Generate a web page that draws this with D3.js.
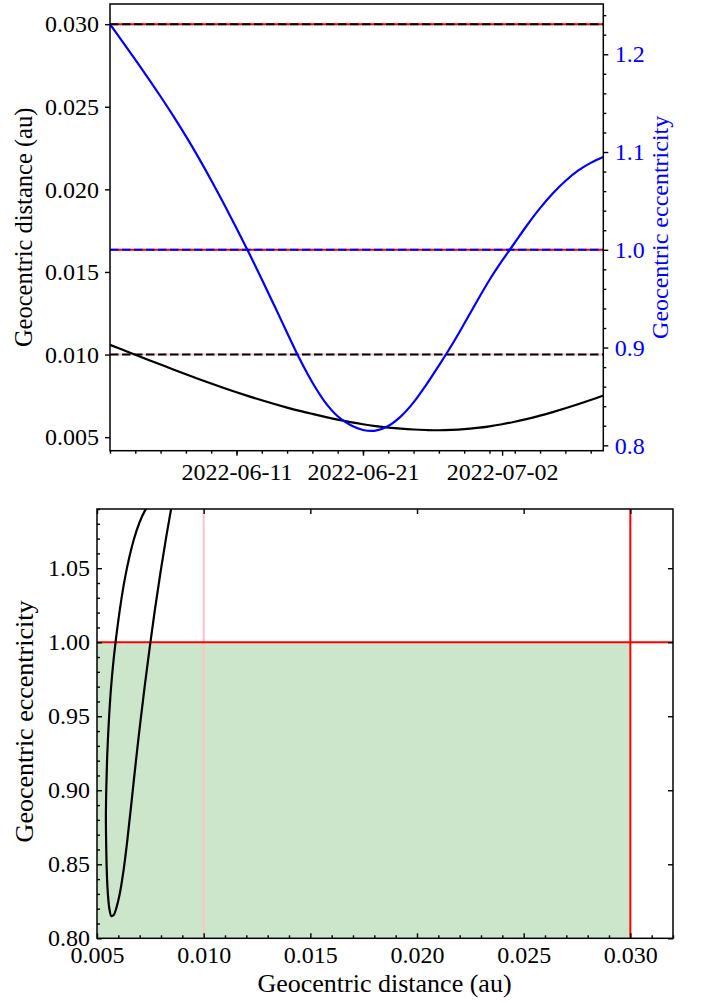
<!DOCTYPE html>
<html>
<head>
<meta charset="utf-8">
<script src="https://cdn.jsdelivr.net/npm/d3@7"></script>
<style>
body { margin: 0; background: #fff; }
text { font-family: "Liberation Serif", "Times New Roman", serif; }
</style>
</head>
<body>
<script>
// values, one sample a day
var dates = ["2022-06-01", "2022-06-02", "2022-06-03", "2022-06-04", "2022-06-05",
  "2022-06-06", "2022-06-07", "2022-06-08", "2022-06-09", "2022-06-10",
  "2022-06-11", "2022-06-12", "2022-06-13", "2022-06-14", "2022-06-15",
  "2022-06-16", "2022-06-17", "2022-06-18", "2022-06-19", "2022-06-20",
  "2022-06-21", "2022-06-22", "2022-06-23", "2022-06-24", "2022-06-25",
  "2022-06-26", "2022-06-27", "2022-06-28", "2022-06-29", "2022-06-30",
  "2022-07-01", "2022-07-02", "2022-07-03", "2022-07-04", "2022-07-05",
  "2022-07-06", "2022-07-07", "2022-07-08", "2022-07-09", "2022-07-10"];

var distance = [0.010587, 0.010287, 0.009987, 0.009690, 0.009395,
  0.009100, 0.008810, 0.008525, 0.008245, 0.007975,
  0.007715, 0.007470, 0.007232, 0.007005, 0.006790,
  0.006590, 0.006405, 0.006227, 0.006062, 0.005912,
  0.005782, 0.005672, 0.005582, 0.005512, 0.005462,
  0.005432, 0.005417, 0.005437, 0.005482, 0.005557,
  0.005657, 0.005782, 0.005932, 0.006107, 0.006302,
  0.006517, 0.006747, 0.006992, 0.007247, 0.007517];

var eccentricity = [1.2307, 1.2127, 1.1945, 1.1759, 1.1568,
  1.1370, 1.1162, 1.0943, 1.0712, 1.0471,
  1.0221, 0.9964, 0.9699, 0.9427, 0.9152,
  0.8882, 0.8642, 0.8442, 0.8297, 0.8207,
  0.8157, 0.8150, 0.8198, 0.8296, 0.8439,
  0.8619, 0.8816, 0.9021, 0.9243, 0.9471,
  0.9691, 0.9888, 1.0072, 1.0256, 1.0426,
  1.0576, 1.0704, 1.0809, 1.0889, 1.0949];

// limits drawn as lines
var distMax = 0.030;
var distMin = 0.010;
var eccLimit = 1.0;

// tick labels
var dateTicks = ["2022-06-11", "2022-06-21", "2022-07-02"];
var distTicks = [0.005, 0.010, 0.015, 0.020, 0.025, 0.030];
var eccTicks = [0.8, 0.9, 1.0, 1.1, 1.2];
var eccTicksB = [0.80, 0.85, 0.90, 0.95, 1.00, 1.05];

var parseDate = d3.utcParse("%Y-%m-%d");
var rows = dates.map(function(d, i) {
  return {date: parseDate(d), dist: distance[i], ecc: eccentricity[i]};
});

var svg = d3.select("body").append("svg")
  .attr("width", 702)
  .attr("height", 1006);

var serif = '"Liberation Serif", "Times New Roman", serif';
var lineW = 2.2;

// ---------- top panel ----------
var boxA = {left: 110, right: 603.3, top: 4, bottom: 450.7};

var xTime = d3.scaleUtc()
  .domain([rows[0].date, rows[rows.length - 1].date])
  .range([boxA.left, boxA.right]);
var yDist = d3.scaleLinear().domain([0.00418, 0.03122]).range([boxA.bottom, boxA.top]);
var yEcc = d3.scaleLinear().domain([0.7945, 1.2514]).range([boxA.bottom, boxA.top]);

var gA = svg.append("g").attr("id", "panelA");

function hline(g, y, color, dash) {
  g.append("line")
    .attr("x1", boxA.left).attr("x2", boxA.right)
    .attr("y1", y).attr("y2", y)
    .attr("stroke", color)
    .attr("stroke-width", 2)
    .attr("stroke-dasharray", dash || null);
}

hline(gA, yDist(distMax), "red");
hline(gA, yDist(distMax), "black", "8.5,3.5");
hline(gA, yDist(distMin), "pink");
hline(gA, yDist(distMin), "black", "8.5,3.5");

gA.append("path")
  .datum(rows)
  .attr("fill", "none")
  .attr("stroke", "black")
  .attr("stroke-width", lineW)
  .attr("d", d3.line()
    .x(function(d) { return xTime(d.date); })
    .y(function(d) { return yDist(d.dist); })
    .curve(d3.curveCatmullRom));

// twin axis: eccentricity
hline(gA, yEcc(eccLimit), "red");
hline(gA, yEcc(eccLimit), "blue", "8.5,3.5");

gA.append("path")
  .datum(rows)
  .attr("fill", "none")
  .attr("stroke", "blue")
  .attr("stroke-width", lineW)
  .attr("d", d3.line()
    .x(function(d) { return xTime(d.date); })
    .y(function(d) { return yEcc(d.ecc); })
    .curve(d3.curveCatmullRom));

gA.append("rect")
  .attr("x", boxA.left).attr("y", boxA.top)
  .attr("width", boxA.right - boxA.left)
  .attr("height", boxA.bottom - boxA.top)
  .attr("fill", "none")
  .attr("stroke", "black")
  .attr("stroke-width", 1.5);

function fixAxis(g) {
  g.select(".domain").remove();
  g.attr("font-size", 24).attr("font-family", serif);
  g.selectAll("line").attr("stroke-width", 1.4);
}

// left axis
gA.append("g")
  .attr("transform", "translate(" + boxA.left + ",0)")
  .call(d3.axisLeft(yDist).tickValues(distTicks).tickFormat(d3.format(".3f"))
    .tickSize(5).tickPadding(6))
  .call(fixAxis);

// right axis, minor then major
var eccMinor = d3.range(80, 126, 2).map(function(v) { return v / 100; })
  .filter(function(v) { return Math.abs(v * 10 - Math.round(v * 10)) > 1e-6; });

gA.append("g")
  .attr("transform", "translate(" + boxA.right + ",0)")
  .call(d3.axisRight(yEcc).tickValues(eccMinor).tickFormat("").tickSize(3))
  .call(fixAxis);
gA.append("g")
  .attr("transform", "translate(" + boxA.right + ",0)")
  .call(d3.axisRight(yEcc).tickValues(eccTicks).tickFormat(d3.format(".1f"))
    .tickSize(5).tickPadding(6.5))
  .call(fixAxis)
  .selectAll("text").attr("fill", "blue");

// date axis
gA.append("g")
  .attr("transform", "translate(0," + boxA.bottom + ")")
  .call(d3.axisBottom(xTime).tickValues(xTime.ticks(d3.utcDay.every(2))).tickFormat("").tickSize(3))
  .call(fixAxis);
gA.append("g")
  .attr("transform", "translate(0," + boxA.bottom + ")")
  .call(d3.axisBottom(xTime).tickValues(dateTicks.map(parseDate))
    .tickFormat(d3.utcFormat("%Y-%m-%d")).tickSize(5).tickPadding(7.3))
  .call(fixAxis);

gA.append("text")
  .attr("transform", "translate(32," + (boxA.top + boxA.bottom) / 2 + ") rotate(-90)")
  .attr("text-anchor", "middle")
  .attr("font-size", 24.5)
  .text("Geocentric distance (au)");

gA.append("text")
  .attr("transform", "translate(668," + (boxA.top + boxA.bottom) / 2 + ") rotate(-90)")
  .attr("text-anchor", "middle")
  .attr("font-size", 24)
  .attr("fill", "blue")
  .text("Geocentric eccentricity");

// ---------- bottom panel ----------
var boxB = {left: 97, right: 673, top: 509, bottom: 938.3};

var xD = d3.scaleLinear().domain([0.005, 0.032]).range([boxB.left, boxB.right]);
var yE = d3.scaleLinear().domain([0.80, 1.09]).range([boxB.bottom, boxB.top]);

var gB = svg.append("g").attr("id", "panelB");

gB.append("clipPath").attr("id", "clipB")
  .append("rect")
  .attr("x", boxB.left).attr("y", boxB.top)
  .attr("width", boxB.right - boxB.left)
  .attr("height", boxB.bottom - boxB.top);

// allowed region
gB.append("rect")
  .attr("x", xD(0.005)).attr("y", yE(eccLimit))
  .attr("width", xD(distMax) - xD(0.005))
  .attr("height", yE(0.80) - yE(eccLimit))
  .attr("fill", "green")
  .attr("fill-opacity", 0.2);

gB.append("line")
  .attr("x1", xD(distMin)).attr("x2", xD(distMin))
  .attr("y1", boxB.top).attr("y2", boxB.bottom)
  .attr("stroke", "pink").attr("stroke-width", 2);
gB.append("line")
  .attr("x1", xD(distMax)).attr("x2", xD(distMax))
  .attr("y1", boxB.top).attr("y2", boxB.bottom)
  .attr("stroke", "red").attr("stroke-width", 2);
gB.append("line")
  .attr("x1", boxB.left).attr("x2", boxB.right)
  .attr("y1", yE(eccLimit)).attr("y2", yE(eccLimit))
  .attr("stroke", "red").attr("stroke-width", 2);

gB.append("path")
  .datum(rows)
  .attr("clip-path", "url(#clipB)")
  .attr("fill", "none")
  .attr("stroke", "black")
  .attr("stroke-width", lineW)
  .attr("d", d3.line()
    .x(function(d) { return xD(d.dist); })
    .y(function(d) { return yE(d.ecc); })
    .curve(d3.curveCatmullRom));

gB.append("rect")
  .attr("x", boxB.left).attr("y", boxB.top)
  .attr("width", boxB.right - boxB.left)
  .attr("height", boxB.bottom - boxB.top)
  .attr("fill", "none")
  .attr("stroke", "black")
  .attr("stroke-width", 1.5);

var distMinor = d3.range(5, 33).map(function(v) { return v / 1000; })
  .filter(function(v) { return Math.round(v * 1000) % 5 !== 0; });
var eccMinorB = d3.range(80, 110).map(function(v) { return v / 100; })
  .filter(function(v) { return Math.round(v * 100) % 5 !== 0; });

gB.append("g")
  .attr("transform", "translate(0," + boxB.bottom + ")")
  .call(d3.axisBottom(xD).tickValues(distMinor).tickFormat("").tickSize(-3))
  .call(fixAxis);
gB.append("g")
  .attr("transform", "translate(0," + boxB.bottom + ")")
  .call(d3.axisBottom(xD).tickValues(distTicks).tickFormat(d3.format(".3f"))
    .tickSize(-5).tickPadding(8))
  .call(fixAxis);
gB.append("g")
  .attr("transform", "translate(0," + boxB.top + ")")
  .call(d3.axisTop(xD).tickValues(distTicks).tickFormat("").tickSize(-5))
  .call(fixAxis);

gB.append("g")
  .attr("transform", "translate(" + boxB.left + ",0)")
  .call(d3.axisLeft(yE).tickValues(eccMinorB).tickFormat("").tickSize(-3))
  .call(fixAxis);
gB.append("g")
  .attr("transform", "translate(" + boxB.left + ",0)")
  .call(d3.axisLeft(yE).tickValues(eccTicksB).tickFormat(d3.format(".2f"))
    .tickSize(-5).tickPadding(7))
  .call(fixAxis);
gB.append("g")
  .attr("transform", "translate(" + boxB.right + ",0)")
  .call(d3.axisRight(yE).tickValues(eccTicksB).tickFormat("").tickSize(-5))
  .call(fixAxis);

gB.append("text")
  .attr("transform", "translate(33,721.5) rotate(-90)")
  .attr("text-anchor", "middle")
  .attr("font-size", 26)
  .text("Geocentric eccentricity");

gB.append("text")
  .attr("x", 384.5)
  .attr("y", 992)
  .attr("text-anchor", "middle")
  .attr("font-size", 26)
  .text("Geocentric distance (au)");
</script>
</body>
</html>
